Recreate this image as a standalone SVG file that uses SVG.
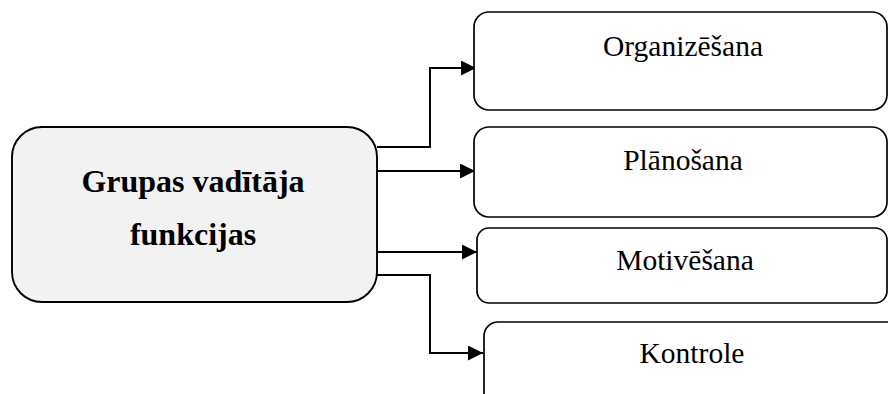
<svg xmlns="http://www.w3.org/2000/svg" width="888" height="394" viewBox="0 0 888 394">
  <defs>
    <marker id="arrow" viewBox="0 0 10 10" refX="10" refY="5" markerWidth="15" markerHeight="15" markerUnits="userSpaceOnUse" orient="auto">
      <path d="M0,0 L10,5 L0,10 z" fill="#000"/>
    </marker>
    <style>
      .box { fill: #fff; stroke: #000; stroke-width: 1.7; }
      .main { fill: #f2f2f2; stroke: #000; stroke-width: 1.9; }
      .lbl { font-family: "Liberation Serif", "Times New Roman", serif; font-size: 29.5px; fill: #000; text-anchor: middle; }
      .title { font-family: "Liberation Serif", "Times New Roman", serif; font-size: 32px; font-weight: bold; fill: #000; text-anchor: middle; }
      .conn { fill: none; stroke: #000; stroke-width: 2; }
    </style>
  </defs>
  <rect width="888" height="394" fill="#fff"/>

  <!-- connectors -->
  <g id="connectors">
    <polyline class="conn" points="377,147 430,147 430,68 476,68" marker-end="url(#arrow)"/>
    <line class="conn" x1="377" y1="171" x2="475" y2="171" marker-end="url(#arrow)"/>
    <line class="conn" x1="377" y1="252" x2="477" y2="252" marker-end="url(#arrow)"/>
    <polyline class="conn" points="377,275 430,275 430,353 483,353" marker-end="url(#arrow)"/>
  </g>

  <g id="node-main">
    <rect class="main" x="12" y="127" width="365" height="175" rx="30" ry="30"/>
    <text class="title" x="193" y="192">Grupas vadītāja</text>
    <text class="title" x="193" y="245">funkcijas</text>
  </g>

  <g id="node-organizesana">
    <rect class="box" x="474" y="12" width="413" height="98" rx="15" ry="15"/>
    <text class="lbl" x="683" y="56">Organizēšana</text>
  </g>

  <g id="node-planosana">
    <rect class="box" x="474" y="127" width="413" height="90" rx="15" ry="15"/>
    <text class="lbl" x="683" y="170">Plānošana</text>
  </g>

  <g id="node-motivesana">
    <rect class="box" x="477" y="228" width="410" height="75" rx="12" ry="12"/>
    <text class="lbl" x="685" y="270">Motivēšana</text>
  </g>

  <g id="node-kontrole">
    <rect class="box" x="484" y="322" width="420" height="90" rx="14" ry="14"/>
    <text class="lbl" x="692" y="363">Kontrole</text>
  </g>
</svg>
